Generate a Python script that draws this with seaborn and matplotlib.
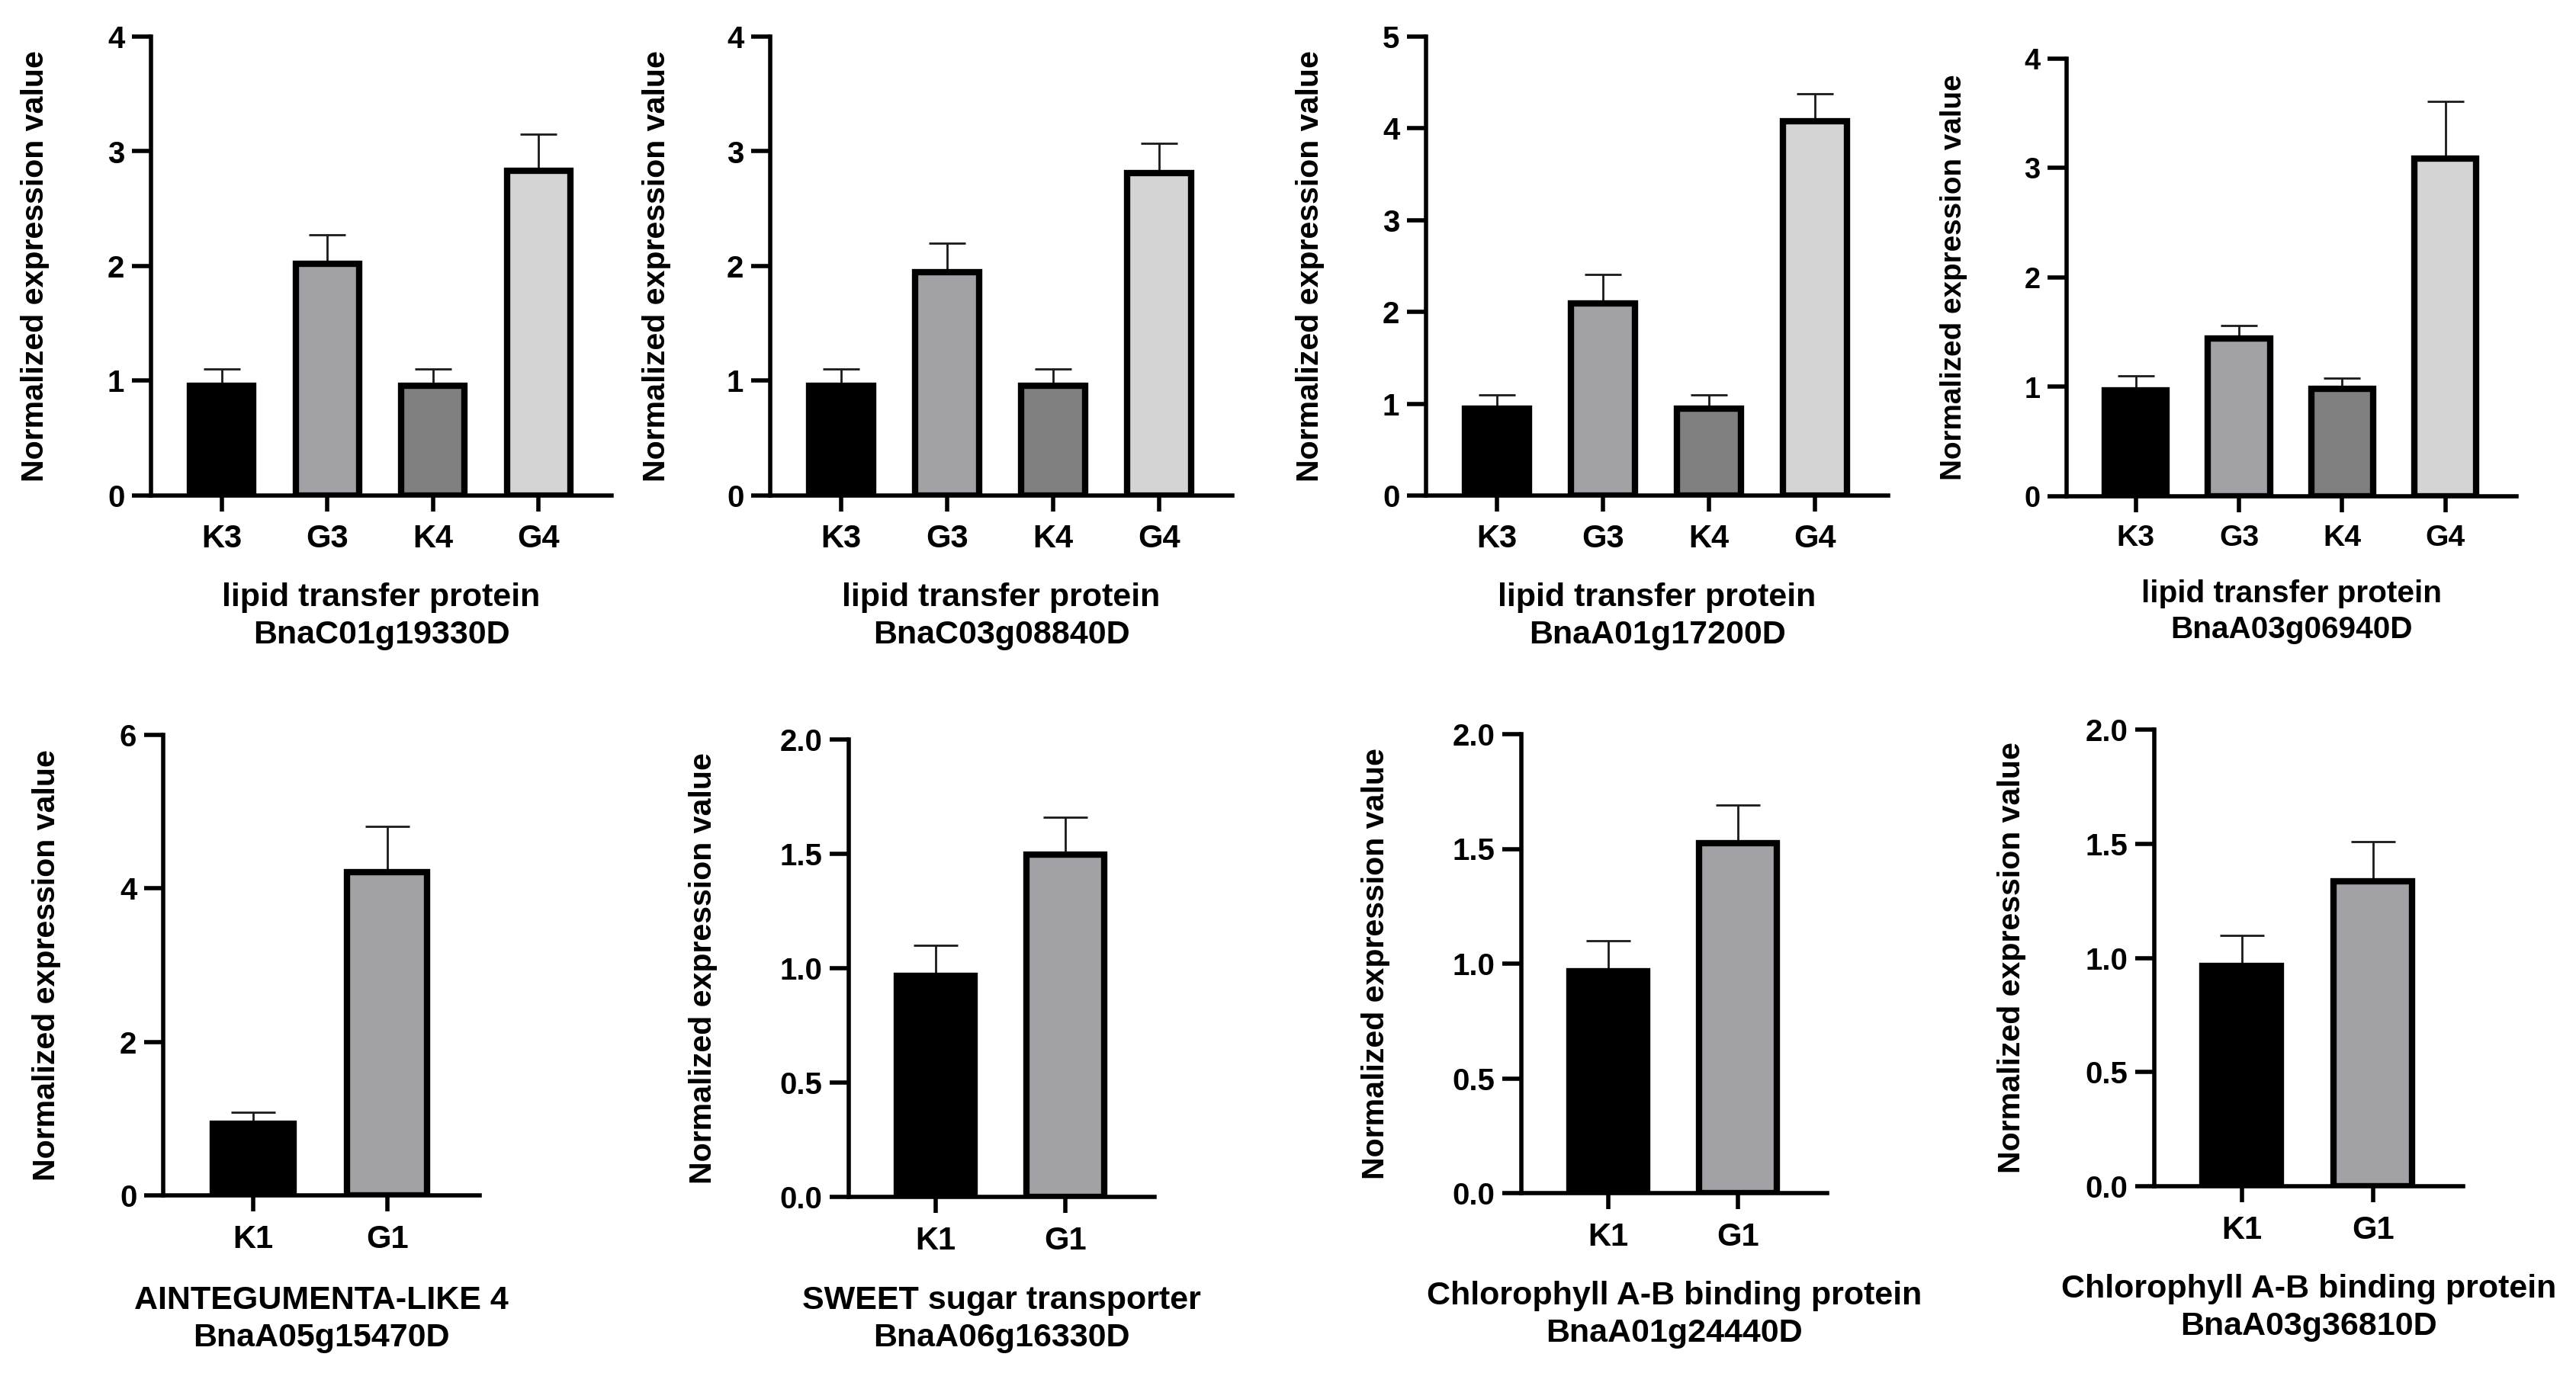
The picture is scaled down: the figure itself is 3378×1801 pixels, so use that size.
import numpy as np
import pandas as pd
import seaborn as sns
import matplotlib.pyplot as plt
from matplotlib.ticker import FormatStrFormatter

sns.set_theme(style="ticks")
plt.rcParams['font.family'] = ['Liberation Sans', 'DejaVu Sans']
plt.rcParams['font.weight'] = 'bold'
plt.rcParams['axes.labelweight'] = 'bold'

# sample groups and bar colours
groups_4 = ["K3", "G3", "K4", "G4"]
groups_2 = ["K1", "G1"]
colors_4 = ["#000000", "#a2a2a6", "#808080", "#d4d4d4"]
colors_2 = ["#000000", "#a2a2a6"]

# mean expression and upper error for each gene
c01_mean = [0.96, 2.02, 0.96, 2.83]
c01_err = [0.14, 0.25, 0.14, 0.32]
c03_mean = [0.96, 1.95, 0.96, 2.81]
c03_err = [0.14, 0.25, 0.14, 0.26]
a01_mean = [0.945, 2.095, 0.945, 4.075]
a01_err = [0.155, 0.315, 0.155, 0.305]
a03_mean = [0.97, 1.44, 0.98, 3.09]
a03_err = [0.13, 0.12, 0.10, 0.52]
ant_mean = [0.93, 4.21]
ant_err = [0.15, 0.60]
sweet_mean = [0.966, 1.496]
sweet_err = [0.134, 0.164]
cab1_mean = [0.966, 1.526]
cab1_err = [0.134, 0.164]
cab2_mean = [0.966, 1.336]
cab2_err = [0.134, 0.174]

gene_labels = [
    "lipid transfer protein\nBnaC01g19330D",
    "lipid transfer protein\nBnaC03g08840D",
    "lipid transfer protein\nBnaA01g17200D",
    "lipid transfer protein\nBnaA03g06940D",
    "AINTEGUMENTA-LIKE 4\nBnaA05g15470D",
    "SWEET sugar transporter\nBnaA06g16330D",
    "Chlorophyll A-B binding protein\nBnaA01g24440D",
    "Chlorophyll A-B binding protein\nBnaA03g36810D",
]

yticks_a = [0, 1, 2, 3, 4]
yticks_b = [0, 1, 2, 3, 4, 5]
yticks_c = [0, 2, 4, 6]
yticks_d = [0, 0.5, 1.0, 1.5, 2.0]

W, H = 3378, 1801
fig = plt.figure(figsize=(W / 100, H / 100), dpi=100)

# (mean, err, groups, colours, label, yticks, layout in pixels: left, right, top, zero, ylabel x, xlabel top, font scale)
panels = [
    (c01_mean, c01_err, groups_4, colors_4, gene_labels[0], yticks_a, (198, 802, 48, 650, 46, 764, 1.0)),
    (c03_mean, c03_err, groups_4, colors_4, gene_labels[1], yticks_a, (1010, 1616, 48, 650, 861, 764, 1.0)),
    (a01_mean, a01_err, groups_4, colors_4, gene_labels[2], yticks_b, (1870, 2476, 48, 650, 1718, 764, 1.0)),
    (a03_mean, a03_err, groups_4, colors_4, gene_labels[3], yticks_a, (2710, 3300, 77, 651, 2562, 760, 0.94)),
    (ant_mean, ant_err, groups_2, colors_2, gene_labels[4], yticks_c, (214, 629, 964, 1568, 61, 1686, 1.0)),
    (sweet_mean, sweet_err, groups_2, colors_2, gene_labels[5], yticks_d, (1113, 1514, 970, 1570, 922, 1686, 1.0)),
    (cab1_mean, cab1_err, groups_2, colors_2, gene_labels[6], yticks_d, (1995, 2396, 963, 1565, 1804, 1680, 1.0)),
    (cab2_mean, cab2_err, groups_2, colors_2, gene_labels[7], yticks_d, (2825, 3230, 957, 1556, 2638, 1671, 1.0)),
]

for mean, err, groups, colors, label, yticks, lay in panels:
    x0, x1, ytop, yzero, lab_x, xlab_top, fs = lay
    ax = fig.add_axes([x0 / W, (H - yzero) / H, (x1 - x0) / W, (yzero - ytop) / H])
    n = len(groups)
    df = pd.DataFrame({"group": groups, "value": mean})
    sns.barplot(data=df, x="group", y="value", hue="group", order=groups,
                palette=colors, legend=False, width=0.6, saturation=1,
                edgecolor="black", linewidth=6, ax=ax)
    ax.errorbar(np.arange(n), mean, yerr=[np.zeros(n), err], fmt="none",
                ecolor="#1a1a1a", elinewidth=2, capsize=17 if n == 4 else 21,
                capthick=2, zorder=0.5)

    ax.set_xlim(-0.67, n - 1 + 0.69)
    ax.set_ylim(0, yticks[-1])
    ax.set_yticks(yticks)
    if yticks[1] == 0.5:
        ax.yaxis.set_major_formatter(FormatStrFormatter("%.1f"))

    sns.despine(ax=ax)
    for side in ["left", "bottom"]:
        ax.spines[side].set_linewidth(4)
        ax.spines[side].set_color("black")
    ax.tick_params(axis="y", length=18, width=4, pad=7, labelsize=29 * fs, colors="black")
    ax.tick_params(axis="x", length=15, width=4, pad=12, labelsize=30 * fs, colors="black")
    for t in ax.get_xticklabels() + ax.get_yticklabels():
        t.set_fontweight("bold")

    ax.set_ylabel("Normalized expression value", fontsize=29.6 * fs, fontweight="bold", color="black")
    ax.yaxis.set_label_coords((lab_x - x0) / (x1 - x0), 0.5)
    ax.yaxis.label.set_va("center")
    ax.set_xlabel(label, fontsize=31 * fs, fontweight="bold", color="black", linespacing=1.3)
    ax.xaxis.set_label_coords(0.5, -(xlab_top - yzero) / (yzero - ytop))

fig.savefig("out.png", dpi=100)
